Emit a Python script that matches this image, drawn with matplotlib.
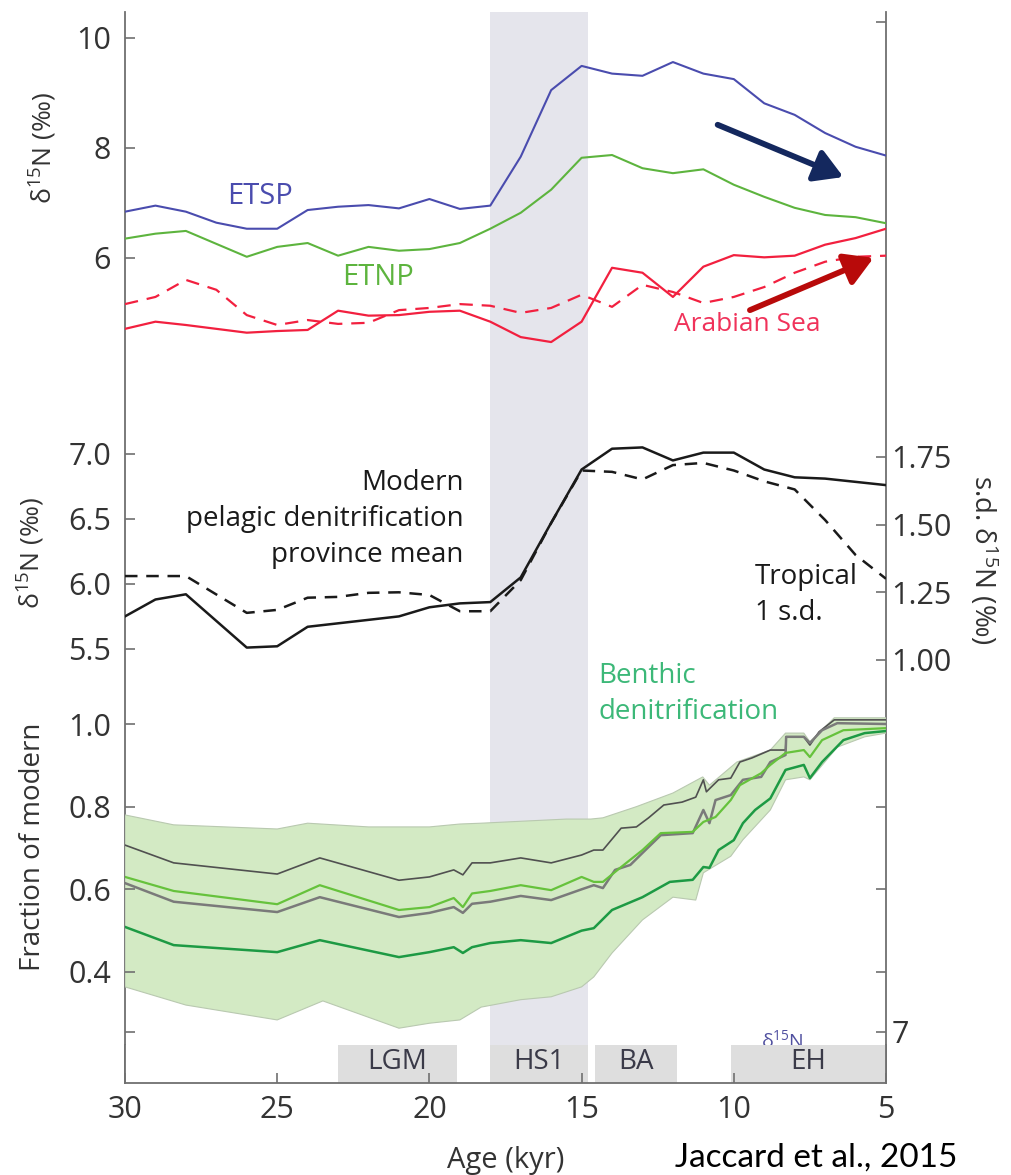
import numpy as np
import matplotlib.pyplot as plt

plt.rcParams['font.family'] = ['Open Sans', 'DejaVu Sans']
plt.rcParams['mathtext.fontset'] = 'custom'
plt.rcParams['mathtext.rm'] = 'Open Sans'
plt.rcParams['mathtext.default'] = 'regular'

# ---- top panel: regional d15N records (permil) ----
etsp_age = [30, 29, 28, 27, 26, 25, 24, 23, 22, 21, 20, 19, 18, 17, 16, 15, 14, 13, 12, 11, 10, 9, 8, 7, 6, 5]
etsp = [6.84, 6.95, 6.84, 6.64, 6.53, 6.53, 6.87, 6.93, 6.96, 6.90, 7.07, 6.89, 6.95, 7.84, 9.05, 9.49,
        9.35, 9.31, 9.56, 9.35, 9.25, 8.81, 8.60, 8.27, 8.02, 7.86]

etnp_age = [30, 29, 28, 26, 25, 24, 23, 22, 21, 20, 19, 18, 17, 16, 15, 14, 13, 12, 11, 10, 9, 8, 7, 6, 5]
etnp = [6.35, 6.44, 6.49, 6.02, 6.20, 6.27, 6.04, 6.20, 6.13, 6.16, 6.27, 6.53, 6.82, 7.24, 7.82, 7.87,
        7.63, 7.54, 7.61, 7.33, 7.11, 6.91, 6.78, 6.74, 6.63]

arab_age = [30, 29, 28, 26, 25, 24, 23, 22, 21, 20, 19, 18, 17, 16, 15, 14, 13, 12, 11, 10, 9, 8, 7, 6, 5]
arab = [4.71, 4.84, 4.78, 4.64, 4.67, 4.69, 5.04, 4.95, 4.96, 5.02, 5.04, 4.84, 4.56, 4.47, 4.84, 5.82,
        5.73, 5.29, 5.84, 6.05, 6.01, 6.04, 6.24, 6.36, 6.53]

arab2_age = [30, 29, 28, 27, 26, 25, 24, 23, 22, 21, 20, 19, 18, 17, 16, 15, 14, 13, 12, 11, 10, 9, 8, 7, 6, 5]
arab2 = [5.16, 5.29, 5.60, 5.42, 4.96, 4.78, 4.87, 4.80, 4.82, 5.05, 5.09, 5.16, 5.13, 5.00, 5.09, 5.33,
         5.11, 5.51, 5.38, 5.18, 5.29, 5.47, 5.73, 5.93, 6.02, 6.04]

# ---- middle panel: pelagic province mean and tropical 1 s.d. ----
mean_age = [30, 29, 28, 26, 25, 24, 21, 20, 19, 18, 17, 16, 15, 14, 13, 12, 11, 10, 9, 8, 7, 5]
mean_d15n = [5.75, 5.88, 5.92, 5.51, 5.52, 5.67, 5.75, 5.82, 5.85, 5.86, 6.05, 6.47, 6.88, 7.04, 7.05,
             6.95, 7.01, 7.01, 6.88, 6.82, 6.81, 6.76]

sd_age = [30, 28, 26, 25, 24, 23, 22, 21, 20, 19, 18, 17, 16, 15, 14, 13, 12, 11, 10, 9, 8, 7, 6, 5]
sd_d15n = [1.31, 1.31, 1.174, 1.185, 1.23, 1.233, 1.248, 1.25, 1.24, 1.18, 1.18, 1.295, 1.506, 1.70,
           1.695, 1.667, 1.72, 1.728, 1.70, 1.66, 1.63, 1.517, 1.388, 1.30]

# ---- bottom panel: benthic denitrification, fraction of modern ----
band_hi_age = [30, 28.4, 25, 24, 22, 20, 19, 18.3, 15.5, 14.7, 14.3, 13.2, 12, 11.02, 10.8, 9.9, 8.8,
               8.3, 7.7, 7.5, 6.7, 5]
band_hi = [0.78, 0.756, 0.746, 0.76, 0.751, 0.751, 0.758, 0.76, 0.77, 0.77, 0.773, 0.80, 0.833, 0.872,
           0.852, 0.908, 0.937, 0.978, 0.978, 0.957, 1.015, 1.015]

band_lo_age = [30, 28, 25, 23.5, 21, 20, 19, 18.3, 17, 16, 15, 14.6, 14, 13, 12, 11.25, 11.0, 10.1,
               9.7, 8.8, 8.3, 7.7, 7.5, 6.6, 5.7, 5]
band_lo = [0.364, 0.32, 0.284, 0.33, 0.264, 0.276, 0.284, 0.315, 0.333, 0.34, 0.364, 0.388, 0.446,
           0.526, 0.581, 0.574, 0.64, 0.68, 0.72, 0.792, 0.865, 0.872, 0.865, 0.944, 0.969, 0.978]

upper_age = [30, 28.4, 25, 23.6, 21, 20, 19.2, 18.9, 18.6, 18, 17, 16, 15, 14.6, 14.3, 13.7, 13.2, 12.8,
             12.3, 11.7, 11.25, 11.0, 10.9, 10.5, 10.1, 9.8, 9.4, 8.8, 8.3, 8.28, 7.7, 7.5, 7.2, 6.7, 5]
upper = [0.707, 0.664, 0.637, 0.676, 0.622, 0.63, 0.647, 0.635, 0.664, 0.664, 0.676, 0.664, 0.683,
         0.695, 0.695, 0.748, 0.751, 0.773, 0.804, 0.811, 0.823, 0.865, 0.836, 0.865, 0.869, 0.908,
         0.918, 0.937, 0.937, 0.969, 0.969, 0.949, 0.981, 1.01, 1.01]

lgreen_age = [30, 28.4, 25, 23.6, 21, 20, 19.2, 18.9, 18.6, 18, 17, 16, 15, 14.6, 14.3, 13.7, 13, 12.4,
              11.35, 11.0, 10.6, 10.1, 9.8, 9.1, 8.8, 8.3, 7.7, 7.5, 7.1, 6.4, 5]
lgreen = [0.63, 0.596, 0.564, 0.61, 0.55, 0.557, 0.579, 0.557, 0.59, 0.596, 0.61, 0.598, 0.63, 0.618,
          0.618, 0.654, 0.695, 0.736, 0.739, 0.763, 0.775, 0.816, 0.852, 0.881, 0.901, 0.93, 0.937,
          0.92, 0.961, 0.985, 0.99]

gray_age = [30, 28.4, 25, 23.6, 21, 20, 19.2, 18.9, 18.6, 18, 17, 16, 15, 14.6, 14.3, 13.9, 13.4, 13.0,
            12.4, 11.35, 11.0, 10.8, 10.6, 10.1, 9.7, 9.1, 8.8, 8.3, 8.28, 7.7, 7.5, 7.1, 6.6, 5]
gray = [0.615, 0.57, 0.545, 0.581, 0.533, 0.543, 0.557, 0.543, 0.565, 0.57, 0.584, 0.574, 0.60, 0.61,
        0.603, 0.647, 0.659, 0.688, 0.731, 0.736, 0.792, 0.76, 0.816, 0.828, 0.865, 0.872, 0.908, 0.925,
        0.969, 0.969, 0.954, 0.985, 1.002, 1.0]

dgreen_age = [30, 28.4, 25, 23.6, 21, 20, 19.2, 18.9, 18.6, 18, 17, 16, 15, 14.6, 14, 13, 12.1, 11.35,
              11.0, 10.8, 10.5, 10.0, 9.7, 9.3, 8.8, 8.3, 7.7, 7.5, 7.1, 6.4, 5.7, 5]
dgreen = [0.509, 0.465, 0.448, 0.477, 0.436, 0.448, 0.46, 0.446, 0.46, 0.47, 0.477, 0.47, 0.50, 0.506,
          0.55, 0.581, 0.618, 0.623, 0.654, 0.652, 0.695, 0.719, 0.76, 0.792, 0.82, 0.889, 0.901, 0.869,
          0.908, 0.961, 0.978, 0.983]

# ---- climate intervals (kyr) ----
hs1_span = (18.0, 14.8)
periods = ['LGM', 'HS1', 'BA', 'EH']
period_start = [23.0, 18.0, 14.55, 10.1]
period_end = [19.1, 14.8, 11.85, 5.0]

SPINE = '#707070'
TXT = '#333333'
W, H = 1012, 1175

fig = plt.figure(figsize=(W / 100, H / 100), dpi=100)
frame = [125 / W, 92 / H, 761 / W, 1071 / H]

ax = fig.add_axes(frame)
ax.set_xlim(30, 5)
ax.set_ylim(0, 1)
ax.axvspan(*hs1_span, color='#e5e5ec', lw=0)
ax.set_xticks([])
ax.set_yticks([])
for side in ['top', 'bottom']:
    ax.spines[side].set_visible(False)
for side in ['left', 'right']:
    ax.spines[side].set_color(SPINE)
    ax.spines[side].set_linewidth(1.3)


def panel(ylim, side='left'):
    a = ax.twinx()
    a.set_ylim(*ylim)
    for s in a.spines.values():
        s.set_visible(False)
    if side == 'left':
        a.yaxis.tick_left()
        a.tick_params(axis='y', left=True, right=False, pad=10)
    else:
        a.tick_params(axis='y', left=False, right=True, pad=4)
    a.tick_params(axis='y', direction='in', length=7, width=1.2, color=SPINE,
                  labelsize=22, labelcolor=TXT)
    return a


ax.yaxis.set_ticks([])

# top panel
ax_top = panel((-9.0, 10.47))
ax_top.plot(etsp_age, etsp, color='#4a4cae', lw=1.5)
ax_top.plot(etnp_age, etnp, color='#5db43e', lw=1.5)
ax_top.plot(arab_age, arab, color='#f2203f', lw=1.6)
ax_top.plot(arab2_age, arab2, color='#f2203f', lw=1.6, ls=(0, (6, 4)))
ax_top.set_yticks([10, 8, 6], ['10', '8', '6'])
ax_top.text(25.55, 7.12, 'ETSP', color='#4a4cae', fontsize=21, ha='center', va='center')
ax_top.text(21.7, 5.65, 'ETNP', color='#5db43e', fontsize=21, ha='center', va='center')
ax_top.text(9.55, 4.78, 'Arabian Sea', color='#f0325a', fontsize=19, ha='center', va='center')
ax_top.annotate('', xy=(6.40, 7.47), xytext=(10.53, 8.42),
                arrowprops=dict(arrowstyle='-|>,head_length=0.85,head_width=0.5', color='#14285e',
                                lw=4.2, shrinkA=0, shrinkB=0, mutation_scale=20))
ax_top.annotate('', xy=(5.41, 6.0), xytext=(9.47, 5.05),
                arrowprops=dict(arrowstyle='-|>,head_length=0.85,head_width=0.5', color='#b80a0a',
                                lw=4.2, shrinkA=0, shrinkB=0, mutation_scale=20))
fig.text(43 / W, 1 - 148 / H, r'δ$^{15}$N (‰)', rotation=90, ha='center', va='center',
         fontsize=19, color=TXT)

# top-right tick
ax_top_r = panel((-9.0, 10.47), side='right')
ax_top_r.set_yticks([10.29], [''])

# middle panel, left axis
ax_mid = panel((2.16, 10.40))
ax_mid.plot(mean_age, mean_d15n, color='#1a1a1a', lw=1.8)
ax_mid.set_yticks([7.0, 6.5, 6.0, 5.5], ['7.0', '6.5', '6.0', '5.5'])
ax_mid.text(18.88, 6.5, 'Modern\npelagic denitrification\nprovince mean', ha='right', va='center',
            multialignment='right', fontsize=20, color='#1a1a1a', linespacing=1.4)
fig.text(31 / W, 1 - 553 / H, r'δ$^{15}$N (‰)', rotation=90, ha='center', va='center',
         fontsize=19, color=TXT)

# middle panel, right axis
ax_sd = panel((-0.563, 3.394), side='right')
ax_sd.plot(sd_age, sd_d15n, color='#1a1a1a', lw=1.8, ls=(0, (5, 3.5)))
ax_sd.set_yticks([1.75, 1.5, 1.25, 1.0], ['1.75', '1.50', '1.25', '1.00'])
ax_sd.text(9.31, 1.24, 'Tropical\n1 s.d.', ha='left', va='center', fontsize=20, color='#1a1a1a',
           linespacing=1.4)
fig.text(983 / W, 1 - 560 / H, r's.d. δ$^{15}$N (‰)', rotation=-90, ha='center', va='center',
         fontsize=20, color=TXT)

# bottom panel
ax_bot = panel((0.1314, 2.7227))
poly_age = np.concatenate([band_hi_age, band_lo_age[::-1]])
poly_val = np.concatenate([band_hi, band_lo[::-1]])
ax_bot.fill(poly_age, poly_val, facecolor='#d3eac4', edgecolor='#b9c9b0', lw=0.8)
ax_bot.plot(upper_age, upper, color='#505050', lw=1.2)
ax_bot.plot(gray_age, gray, color='#7a7a7a', lw=1.8)
ax_bot.plot(lgreen_age, lgreen, color='#66c23c', lw=1.6)
ax_bot.plot(dgreen_age, dgreen, color='#1d9a44', lw=1.8)
ax_bot.set_yticks([1.0, 0.8, 0.6, 0.4, 0.255], ['1.0', '0.8', '0.6', '0.4', ''])
ax_bot.text(14.46, 1.073, 'Benthic\ndenitrification', ha='left', va='center', fontsize=20,
            color='#3cb878', linespacing=1.35)
# purple label peeking out above the interval strip
ax_bot.text(8.4, 0.235, r'δ$^{15}$N', ha='center', va='center', fontsize=14, color='#5050a0')
fig.text(33 / W, 1 - 847 / H, 'Fraction of modern', rotation=90, ha='center', va='center',
         fontsize=20, color=TXT)

ax_bot_r = panel((0.1314, 2.7227), side='right')
ax_bot_r.set_yticks([0.8, 0.6, 0.4, 0.255], ['', '', '', '7'])

# interval strip along the age axis
strip = fig.add_axes([125 / W, 92 / H, 761 / W, 38 / H])
strip.set_xlim(30, 5)
strip.set_ylim(0, 1)
strip.set_facecolor('white')
for name, a0, a1 in zip(periods, period_start, period_end):
    strip.axvspan(a0, a1, color='#dedede', lw=0)
    strip.text((a0 + a1) / 2, 0.56, name, ha='center', va='center', fontsize=20, color='#3a3a48')
strip.spines['top'].set_visible(False)
for side in ['left', 'right', 'bottom']:
    strip.spines[side].set_color(SPINE)
    strip.spines[side].set_linewidth(1.3)
strip.set_yticks([])
strip.set_xticks([30, 25, 20, 15, 10, 5], ['30', '25', '20', '15', '10', '5'])
strip.tick_params(axis='x', direction='in', length=7, width=1.2, color=SPINE, labelsize=22,
                  labelcolor=TXT, pad=9)
strip.set_xlabel('Age (kyr)', fontsize=21, color=TXT, labelpad=15)

fig.text(675 / W, 2 / H, 'Jaccard et al., 2015', ha='left', va='bottom', fontsize=24,
         family='Lato', color='black')

fig.savefig('out.png', dpi=100, facecolor='white')
